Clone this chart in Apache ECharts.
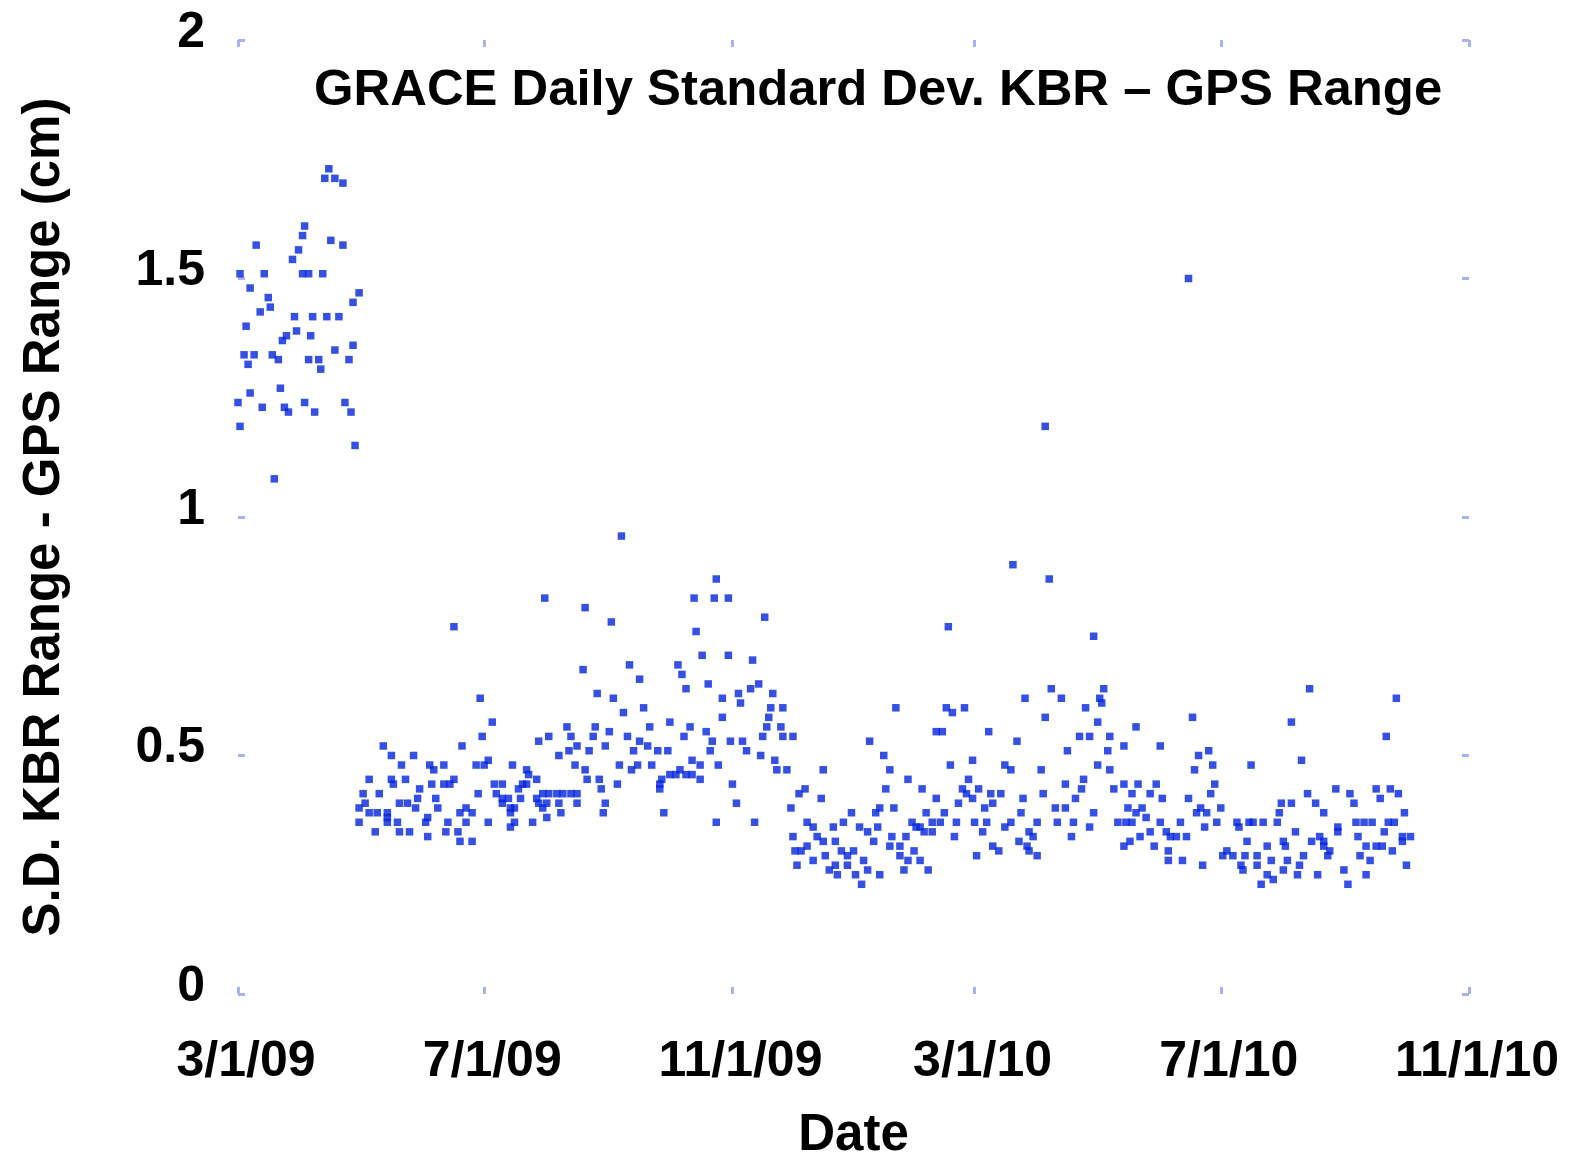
<!DOCTYPE html>
<html lang="en">
<head>
    <meta charset="UTF-8">
    <title>GRACE KBR - GPS Range</title>
    <script type="text/javascript" src="https://cdn.jsdelivr.net/npm/echarts@6/dist/echarts.min.js"></script>
    <style>
        html, body { margin: 0; padding: 0; background: #fff; }
    </style>
</head>
<body>
    <div id="div_echars" style="width: 1571px;height:1155px;"></div>
    <script type="text/javascript">
        // x = days since 3/1/09, y = daily S.D. (cm)
        var tickDays = [0, 122, 245, 365, 487, 610];
        var tickLabels = ['3/1/09', '7/1/09', '11/1/09', '3/1/10', '7/1/10', '11/1/10'];

        // Mar - Apr 2009
        var spring09 = [
            [45,1.73],[43,1.71],[48,1.71],[52,1.70],[33,1.61],[32,1.59],[9,1.57],[46,1.58],[52,1.57],[30,1.56],
            [27,1.54],[1,1.51],[13,1.51],[32,1.51],[35,1.51],[42,1.51],[6,1.48],[60,1.47],[57,1.45],[15,1.46],
            [16,1.44],[11,1.43],[28,1.42],[37,1.42],[44,1.42],[50,1.42],[4,1.40],[24,1.38],[22,1.37],[29,1.39],
            [36,1.38],[3,1.34],[8,1.34],[5,1.32],[17,1.34],[20,1.33],[35,1.33],[40,1.33],[41,1.31],[48,1.35],
            [57,1.36],[55,1.33],[6,1.26],[21,1.27],[0,1.24],[12,1.23],[23,1.23],[25,1.22],[33,1.24],[38,1.22],
            [53,1.24],[56,1.22],[1,1.19],[58,1.15],[18,1.08]
        ];

        // May - Nov 2009
        var summer09 = [
            [190,0.96],[237,0.87],[236,0.83],[243,0.83],[226,0.83],[152,0.83],[172,0.81],[261,0.79],[185,0.78],[107,0.77],
            [227,0.76],[230,0.71],[243,0.71],[255,0.70],[194,0.69],[171,0.68],[218,0.69],[220,0.67],[199,0.66],[222,0.64],
            [233,0.65],[178,0.63],[186,0.62],[120,0.62],[240,0.62],[248,0.63],[254,0.64],[258,0.65],[265,0.63],[249,0.61],
            [201,0.60],[270,0.60],[191,0.59],[264,0.60],[240,0.58],[263,0.58],[126,0.57],[214,0.57],[204,0.56],[163,0.56],
            [177,0.56],[224,0.56],[262,0.56],[269,0.56],[184,0.55],[232,0.55],[121,0.54],[154,0.54],[165,0.54],[176,0.54],
            [193,0.54],[221,0.54],[260,0.54],[270,0.54],[275,0.54],[149,0.53],[199,0.53],[235,0.53],[244,0.53],[250,0.53],
            [72,0.52],[111,0.52],[168,0.52],[174,0.51],[182,0.52],[203,0.52],[208,0.51],[213,0.51],[234,0.51],[196,0.51],
            [252,0.51],[76,0.50],[87,0.50],[164,0.51],[159,0.50],[259,0.50],[81,0.48],[118,0.48],[124,0.49],[122,0.48],
            [189,0.48],[205,0.48],[225,0.49],[266,0.49],[95,0.48],[102,0.48],[136,0.48],[167,0.48],[198,0.48],[229,0.48],
            [238,0.48],[267,0.47],[219,0.47],[143,0.47],[97,0.47],[172,0.47],[195,0.47],[217,0.46],[222,0.46],[272,0.47],
            [65,0.45],[76,0.45],[83,0.45],[107,0.45],[148,0.45],[144,0.46],[173,0.45],[179,0.45],[210,0.45],[214,0.46],
            [225,0.46],[229,0.45],[96,0.44],[143,0.44],[188,0.44],[209,0.44],[77,0.44],[102,0.44],[105,0.44],[127,0.44],
            [131,0.44],[141,0.44],[245,0.44],[90,0.43],[139,0.43],[180,0.43],[209,0.43],[278,0.42],[62,0.42],[70,0.42],
            [89,0.41],[119,0.42],[128,0.42],[151,0.42],[161,0.42],[168,0.42],[154,0.42],[158,0.42],[165,0.42],[98,0.41],
            [131,0.41],[134,0.41],[140,0.41],[148,0.41],[168,0.40],[247,0.40],[63,0.40],[80,0.40],[84,0.40],[88,0.39],
            [99,0.39],[131,0.40],[135,0.39],[149,0.40],[153,0.40],[159,0.40],[182,0.40],[60,0.39],[65,0.38],[69,0.38],
            [74,0.38],[113,0.39],[137,0.39],[151,0.39],[160,0.38],[181,0.38],[274,0.39],[74,0.37],[94,0.37],[110,0.38],
            [116,0.38],[135,0.38],[211,0.38],[60,0.36],[74,0.36],[79,0.36],[93,0.36],[113,0.36],[153,0.37],[104,0.36],
            [124,0.36],[137,0.36],[146,0.36],[237,0.36],[256,0.36],[68,0.34],[80,0.34],[85,0.34],[103,0.34],[109,0.34],
            [135,0.35],[275,0.33],[94,0.33],[110,0.32],[116,0.32],[276,0.30],[277,0.27]
        ];

        // Dec 2009 - Sep 2010
        var year10 = [
            [384,0.90],[402,0.87],[352,0.77],[424,0.75],[403,0.64],[429,0.64],[390,0.62],[408,0.62],[427,0.62],[326,0.60],
            [351,0.60],[354,0.59],[360,0.60],[420,0.60],[428,0.61],[400,0.58],[426,0.57],[346,0.55],[349,0.55],[372,0.55],
            [313,0.53],[386,0.53],[417,0.54],[422,0.54],[432,0.54],[431,0.51],[411,0.51],[320,0.50],[364,0.49],[353,0.48],
            [380,0.48],[383,0.47],[426,0.48],[432,0.47],[290,0.47],[323,0.47],[398,0.47],[332,0.45],[362,0.45],[419,0.45],
            [410,0.44],[281,0.43],[321,0.43],[339,0.43],[359,0.43],[367,0.43],[418,0.43],[361,0.42],[373,0.42],[378,0.42],
            [399,0.42],[434,0.43],[289,0.41],[346,0.41],[357,0.40],[364,0.41],[374,0.40],[389,0.41],[415,0.41],[370,0.39],
            [318,0.39],[405,0.39],[316,0.38],[325,0.39],[410,0.39],[282,0.36],[304,0.38],[334,0.36],[341,0.38],[350,0.38],
            [388,0.38],[396,0.36],[406,0.36],[424,0.38],[436,0.36],[300,0.36],[285,0.35],[336,0.35],[344,0.36],[348,0.36],
            [356,0.36],[365,0.36],[371,0.36],[383,0.36],[414,0.36],[295,0.35],[308,0.35],[317,0.35],[338,0.35],[380,0.35],
            [422,0.35],[312,0.34],[340,0.34],[344,0.34],[369,0.34],[392,0.34],[287,0.33],[296,0.32],[324,0.33],[331,0.33],
            [355,0.33],[394,0.33],[413,0.33],[282,0.31],[290,0.32],[315,0.32],[323,0.31],[328,0.31],[374,0.31],[387,0.32],
            [391,0.31],[279,0.30],[299,0.30],[305,0.30],[335,0.30],[377,0.30],[392,0.30],[285,0.28],[291,0.29],[302,0.29],
            [328,0.29],[366,0.29],[396,0.29],[310,0.28],[332,0.28],[338,0.28],[296,0.27],[302,0.27],[293,0.26],[312,0.26],
            [330,0.26],[342,0.26],[297,0.25],[306,0.25],[318,0.25],[309,0.23],
            [400,1.19],[471,1.50],
            [531,0.64],[574,0.62],[473,0.58],[522,0.57],[445,0.56],[569,0.54],[439,0.52],[457,0.52],[481,0.51],[476,0.50],
            [527,0.49],[474,0.47],[483,0.48],[502,0.48],[544,0.43],[564,0.43],[571,0.43],[446,0.44],[455,0.44],[439,0.44],
            [484,0.44],[482,0.42],[551,0.42],[575,0.42],[443,0.42],[452,0.42],[458,0.41],[471,0.41],[530,0.42],[566,0.41],
            [553,0.40],[517,0.40],[522,0.40],[534,0.40],[441,0.39],[448,0.39],[487,0.39],[477,0.39],[578,0.38],[445,0.38],
            [450,0.37],[538,0.38],[440,0.36],[475,0.38],[480,0.38],[485,0.36],[501,0.36],[508,0.36],[515,0.36],[516,0.38],
            [554,0.36],[570,0.36],[573,0.36],[443,0.36],[457,0.36],[467,0.36],[495,0.36],[503,0.36],[545,0.35],[558,0.36],
            [562,0.36],[479,0.35],[496,0.35],[545,0.34],[452,0.34],[460,0.34],[524,0.34],[568,0.34],[447,0.33],[462,0.33],
            [465,0.33],[470,0.33],[536,0.33],[555,0.33],[577,0.33],[581,0.33],[442,0.32],[500,0.32],[518,0.32],[532,0.32],
            [538,0.32],[439,0.31],[454,0.31],[510,0.31],[519,0.31],[541,0.30],[559,0.31],[564,0.31],[567,0.31],[577,0.32],
            [461,0.30],[490,0.30],[538,0.31],[572,0.30],[461,0.28],[468,0.28],[488,0.29],[493,0.29],[499,0.29],[505,0.29],
            [512,0.28],[528,0.29],[540,0.29],[556,0.29],[561,0.28],[478,0.27],[497,0.27],[505,0.27],[520,0.28],[526,0.27],
            [579,0.27],[498,0.26],[518,0.26],[510,0.25],[535,0.25],[548,0.26],[559,0.25],[507,0.23],[513,0.24],[550,0.23],
            [525,0.25]
        ];

        var allPts = spring09.concat(summer09, year10);

        var myChart = echarts.init(document.getElementById('div_echars'));

        var fontFam = 'Liberation Sans, Arial, sans-serif';
        var labelFont = {
            fontFamily: fontFam,
            fontWeight: 'bold',
            fontSize: 50,
            color: '#000'
        };
        var nameFont = {
            fontFamily: fontFam,
            fontWeight: 'bold',
            fontSize: 51,
            color: '#000'
        };
        // small faint ticks on all four sides, no axis lines
        var tickStyle = {
            show: true,
            inside: true,
            length: 7,
            lineStyle: {color: '#a9b1f3', width: 3}
        };
        var noLine = {show: false, onZero: false};

        var option = {
            backgroundColor: '#fff',
            animation: false,
            title: {
                text: 'GRACE Daily Standard Dev. KBR \u2013 GPS Range',
                left: 309,
                top: 60,
                textStyle: {
                    fontFamily: fontFam,
                    fontWeight: 'bold',
                    fontSize: 50.8,
                    color: '#000'
                }
            },
            grid: {left: 238, right: 102, top: 40, bottom: 161, outerBoundsMode: 'none'},
            xAxis: [{
                type: 'value',
                min: 0,
                max: 610,
                name: 'Date',
                nameLocation: 'middle',
                nameGap: 116,
                nameTextStyle: nameFont,
                axisLine: noLine,
                axisTick: Object.assign({customValues: tickDays}, tickStyle),
                splitLine: {show: false},
                axisLabel: Object.assign({
                    customValues: tickDays,
                    margin: 43,
                    padding: [0, 0, 0, 16],
                    formatter: function (v) {
                        var i = tickDays.indexOf(v);
                        return i >= 0 ? tickLabels[i] : '';
                    }
                }, labelFont)
            }, {
                type: 'value',
                position: 'top',
                min: 0,
                max: 610,
                axisLine: noLine,
                axisTick: Object.assign({customValues: tickDays}, tickStyle),
                splitLine: {show: false},
                axisLabel: {show: false}
            }],
            yAxis: [{
                type: 'value',
                min: 0,
                max: 2,
                interval: 0.5,
                name: 'S.D. KBR Range - GPS Range (cm)',
                nameLocation: 'middle',
                nameGap: 168,
                nameTextStyle: nameFont,
                axisLine: noLine,
                axisTick: tickStyle,
                splitLine: {show: false},
                axisLabel: Object.assign({margin: 33, verticalAlign: 'bottom', lineHeight: 14}, labelFont)
            }, {
                type: 'value',
                position: 'right',
                min: 0,
                max: 2,
                interval: 0.5,
                axisLine: noLine,
                axisTick: tickStyle,
                splitLine: {show: false},
                axisLabel: {show: false}
            }],
            series: [{
                name: 'S.D.',
                type: 'scatter',
                symbol: 'rect',
                symbolSize: 7.5,
                itemStyle: {color: '#0424dc'},
                data: allPts
            }]
        };
        myChart.setOption(option);
    </script>
</body>
</html>
